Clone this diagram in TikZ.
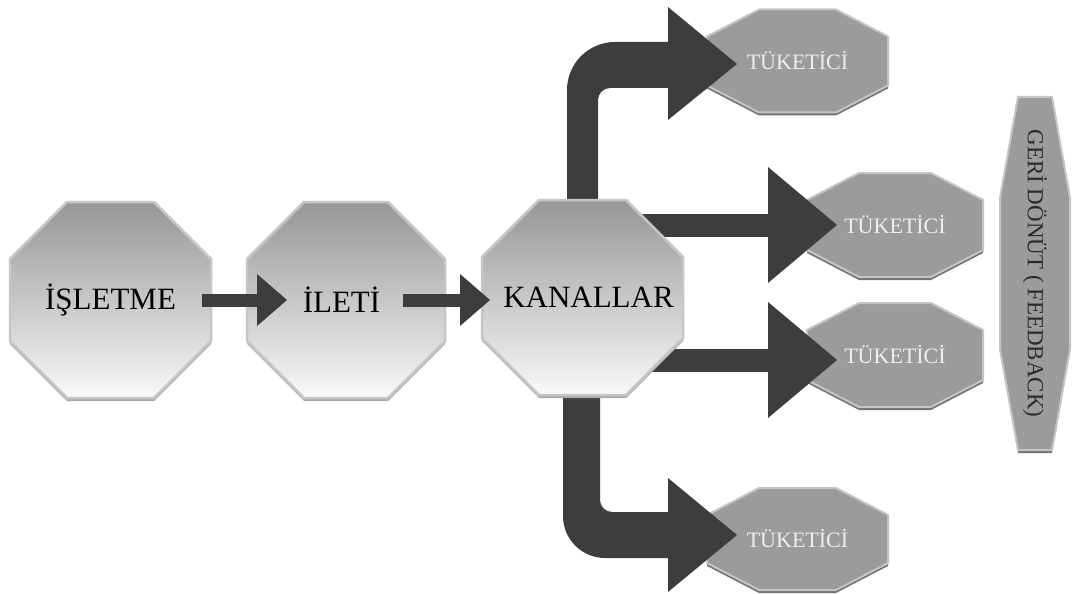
\documentclass[tikz,border=0pt]{standalone}
\usepackage{fontspec}
\usepackage{graphicx}
\setmainfont{Liberation Serif}
\usetikzlibrary{arrows.meta,calc}
\definecolor{arrc}{HTML}{3D3D3D}
\definecolor{tfill}{HTML}{9B9B9B}
\definecolor{tedge}{HTML}{C4C4C4}
\definecolor{tshadow}{HTML}{727272}
\definecolor{gtop}{HTML}{979797}
\definecolor{gbot}{HTML}{F8F8F8}
\definecolor{medge}{HTML}{C6C6C6}
\definecolor{mshadow}{HTML}{A8A8A8}
\definecolor{ttext}{HTML}{EEEEEE}
\definecolor{fbtext}{HTML}{2A2A2A}
\pgfdeclarelayer{layBG}
\pgfdeclarelayer{layA}
\pgfdeclarelayer{layB}
\pgfdeclarelayer{layC}
\pgfdeclarelayer{layD}
\pgfsetlayers{layBG,layA,layB,layC,layD,main}
% #1 options, #2 node, #3 cut x, #4 cut y, #5 vertical shift
\newcommand\octshape[5]{%
  \path[#1] ([xshift=#3,yshift=#5]#2.north west) -- ([xshift=-#3,yshift=#5]#2.north east)
   -- ([yshift=#5,yshift=-#4]#2.north east) -- ([yshift=#5,yshift=#4]#2.south east)
   -- ([xshift=-#3,yshift=#5]#2.south east) -- ([xshift=#3,yshift=#5]#2.south west)
   -- ([yshift=#5,yshift=#4]#2.south west) -- ([yshift=#5,yshift=-#4]#2.north west) -- cycle;}
\begin{document}
\begin{tikzpicture}[x=1pt,y=-1pt,
  octnode/.style={inner sep=0pt, outer sep=0pt, text=black, font=\fontsize{31}{31}\selectfont},
  tnode/.style={inner sep=0pt, outer sep=0pt, text=ttext, font=\fontsize{22}{22}\selectfont},
  fbnode/.style={inner sep=0pt, outer sep=0pt, text=fbtext, font=\fontsize{23}{23}\selectfont},
  mainoct/.style={top color=gtop, bottom color=gbot, draw=medge, line width=2.5pt, line join=miter},
  mainshad/.style={fill=mshadow},
  toct/.style={fill=tfill, draw=tedge, line width=2pt, line join=miter},
  tshad/.style={fill=tshadow},
  thinarrow/.style={draw=arrc, line width=13pt, -{Triangle[length=30pt,width=52pt,line width=0pt]}},
  widearrow/.style={draw=arrc, line width=23pt, -{Triangle[length=69pt,width=116pt,line width=0pt]}},
  blockfill/.style={fill=arrc}]
\useasboundingbox (0,0) rectangle (1080,594);
\begin{pgfonlayer}{layBG}
  \fill[white] (0,0) rectangle (1080,594);
\end{pgfonlayer}

% nodes
\node[octnode, minimum width=201pt, minimum height=196pt] (isl) at (110.5,300) {İŞLETME};
\node[octnode, minimum width=198pt, minimum height=196pt] (ile) at (346,300) {İLETİ\hspace*{9pt}};
\node[octnode, minimum width=201pt, minimum height=195pt] (kan) at (582.5,297.5) {\hspace*{12pt}KANALLAR};
\node[tnode, minimum width=181pt, minimum height=103pt] (t1) at (797.5,61) {TÜKETİCİ};
\node[tnode, minimum width=176pt, minimum height=104pt] (t2) at (895,225) {TÜKETİCİ};
\node[tnode, minimum width=176pt, minimum height=104pt] (t3) at (895,355) {TÜKETİCİ};
\node[tnode, minimum width=181pt, minimum height=102pt] (t4) at (797.5,539) {TÜKETİCİ};
\node[fbnode, minimum width=70pt, minimum height=353pt] (fb) at (1035,273.5) {\rotatebox{-90}{GERİ DÖNÜT ( FEEDBACK)}};

% consumer shapes
\begin{pgfonlayer}{layA}
  \foreach \n in {t1,t2,t3,t4}{
    \octshape{tshad}{\n}{52pt}{27pt}{-3pt}
    \octshape{toct}{\n}{52pt}{27pt}{0pt}
  }
  \octshape{tshad}{fb}{18pt}{101pt}{-3pt}
  \octshape{toct}{fb}{18pt}{101pt}{0pt}
\end{pgfonlayer}

% outgoing arrows
\begin{pgfonlayer}{layB}
  \fill[blockfill] ($(kan.center)+(-15.5,-47.5)$) -- (567,90)
     .. controls (567,63.5) and (588.5,42) .. (615,42) -- (668,42) -- (668,7)
     -- ($(t1.west)+(30,3)$) -- (668,120) -- (668,88) -- (610,88)
     .. controls (603.4,88) and (598,93.4) .. (598,100)
     -- ($(kan.center)+(15.5,-47.5)$) -- cycle;
  \fill[blockfill] ($(kan.center)+(-19.5,50)$) -- (563,516)
     .. controls (563,539.2) and (581.8,558) .. (605,558) -- (668,558) -- (668,592)
     -- ($(t4.west)+(30,-4)$) -- (668,478) -- (668,512) -- (612,512)
     .. controls (605.4,512) and (600,506.6) .. (600,500)
     -- ($(kan.center)+(17.5,50)$) -- cycle;
  \draw[widearrow] (kan.center |- t2.west) -- ($(t2.west)+(30,0)$);
  \draw[widearrow] ($(kan.center |- t3.west)+(0,5)$) -- ($(t3.west)+(30,5)$);
\end{pgfonlayer}

% main shapes
\begin{pgfonlayer}{layC}
  \foreach \n in {isl,ile,kan}{
    \octshape{mainshad}{\n}{57pt}{57pt}{-3pt}
    \octshape{mainoct}{\n}{57pt}{57pt}{0pt}
  }
\end{pgfonlayer}

% incoming arrows
\begin{pgfonlayer}{layD}
  \draw[thinarrow] ([xshift=-9pt]isl.east) -- ([xshift=40pt]ile.west);
  \draw[thinarrow] ([xshift=-42pt]ile.east) -- ($(kan.west |- ile.east)+(8,0)$);
\end{pgfonlayer}
\end{tikzpicture}
\end{document}
